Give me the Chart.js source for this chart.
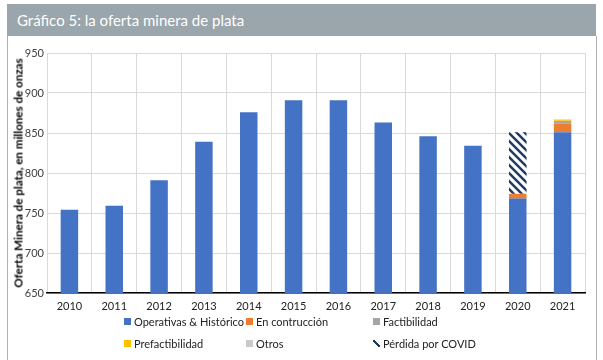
<!DOCTYPE html>
<html><head><meta charset="utf-8">
<script src="https://cdn.jsdelivr.net/npm/chart.js@4"></script>
<style>
body{margin:0;width:603px;height:360px;background:#fff;position:relative;overflow:hidden;font-family:Lato, "Liberation Sans", sans-serif;}
#hdr{position:absolute;left:7px;top:4px;width:589px;height:32px;background:#9AA5AC;color:#fff;font-size:15px;line-height:32px;box-sizing:border-box;padding-left:10px;}
#frame{position:absolute;left:7px;top:36px;width:590px;height:330px;border-left:1px solid #b0b0b0;border-right:1px solid #b0b0b0;box-sizing:border-box;}
#wrap{position:absolute;left:8px;top:40px;width:588px;height:275px;}
#ytitle{position:absolute;left:18px;top:173px;transform:translate(-50%,-50%) rotate(-90deg);white-space:nowrap;font-weight:bold;font-size:11.6px;color:#000;}
#legend{position:absolute;left:124px;top:310px;display:grid;grid-template-columns:122px 127px auto;grid-auto-rows:22px;font-size:11px;color:#222;}
#legend .it{display:flex;align-items:center;height:22px;white-space:nowrap;}
#legend .sw{display:inline-block;width:7px;height:7px;margin-right:3px;}
</style>
</head><body>
<div id="hdr">Gráfico 5: la oferta minera de plata</div>
<div id="frame"></div>
<div id="wrap"><canvas id="c" width="588" height="275"></canvas></div>
<div id="ytitle">Oferta Minera de plata, en millones de onzas</div>
<div id="legend"></div>
<script>
const years = ['2010','2011','2012','2013','2014','2015','2016','2017','2018','2019','2020','2021'];
const operativas = [754, 759, 791, 839, 876, 891, 891, 863, 846, 834, 768, 851];
const construccion = [0, 0, 0, 0, 0, 0, 0, 0, 0, 0, 6, 11];
const factibilidad = [0, 0, 0, 0, 0, 0, 0, 0, 0, 0, 0, 3];
const prefactibilidad = [0, 0, 0, 0, 0, 0, 0, 0, 0, 0, 0, 1];
const otros = [0, 0, 0, 0, 0, 0, 0, 0, 0, 0, 0, 1];
const perdidaCovid = [0, 0, 0, 0, 0, 0, 0, 0, 0, 0, 77, 0];
const yTicks = [650, 700, 750, 800, 850, 900, 950];

function hatch(){
  const p = document.createElement('canvas'); p.width = 8; p.height = 8;
  const g = p.getContext('2d');
  g.fillStyle = '#fff'; g.fillRect(0,0,8,8);
  g.strokeStyle = '#1F3864'; g.lineWidth = 2.4;
  g.beginPath();
  g.moveTo(-2,-2); g.lineTo(10,10);
  g.moveTo(-2,6); g.lineTo(2,10);
  g.moveTo(6,-2); g.lineTo(10,2);
  g.stroke();
  return document.getElementById('c').getContext('2d').createPattern(p,'repeat');
}

const series = [
  {label:'Operativas & Histórico', data:operativas, color:'#4472C4'},
  {label:'En contrucción', data:construccion, color:'#ED7D31'},
  {label:'Factibilidad', data:factibilidad, color:'#A5A5A5'},
  {label:'Prefactibilidad', data:prefactibilidad, color:'#FFC000'},
  {label:'Otros', data:otros, color:'#C9C9C9'},
  {label:'Pérdida por COVID', data:perdidaCovid, color:null}
];
const pat = hatch();

const chart = new Chart(document.getElementById('c'), {
  type:'bar',
  data:{labels:years, datasets:series.map(s=>({label:s.label, data:s.data, backgroundColor:s.color||pat, borderWidth:0, stack:'s', categoryPercentage:1, barPercentage:0.39}))},
  options:{
    responsive:false, animation:false, devicePixelRatio:1,
    layout:{padding:{top:13,right:11,left:0,bottom:0}},
    plugins:{legend:{display:false}, tooltip:{enabled:false}},
    scales:{
      x:{stacked:true, grid:{offset:true,color:'#d9d9d9',drawTicks:false}, border:{color:'#000',width:1.5},
         ticks:{color:'#222',font:{family:'Lato',size:11},padding:7},
         afterFit:s=>{s.height=22;}},
      y:{stacked:true, min:650, max:950, afterBuildTicks:s=>{s.ticks=yTicks.map(v=>({value:v}));},
         grid:{color:'#d9d9d9',drawTicks:false}, border:{display:false},
         ticks:{color:'#404040',font:{family:'Lato',size:11},padding:3},
         afterFit:s=>{s.width=39;}}
    }
  }
});

const lg = document.getElementById('legend');
series.forEach(s=>{
  const it = document.createElement('div'); it.className='it';
  const sw = document.createElement('span'); sw.className='sw';
  if(s.color){
    sw.style.background=s.color;
  } else {
    sw.style.background='linear-gradient(45deg, transparent 38%, #1F3864 38%, #1F3864 62%, transparent 62%)';
  }
  it.appendChild(sw);
  it.appendChild(document.createTextNode(s.label));
  lg.appendChild(it);
});
</script>
</body></html>
